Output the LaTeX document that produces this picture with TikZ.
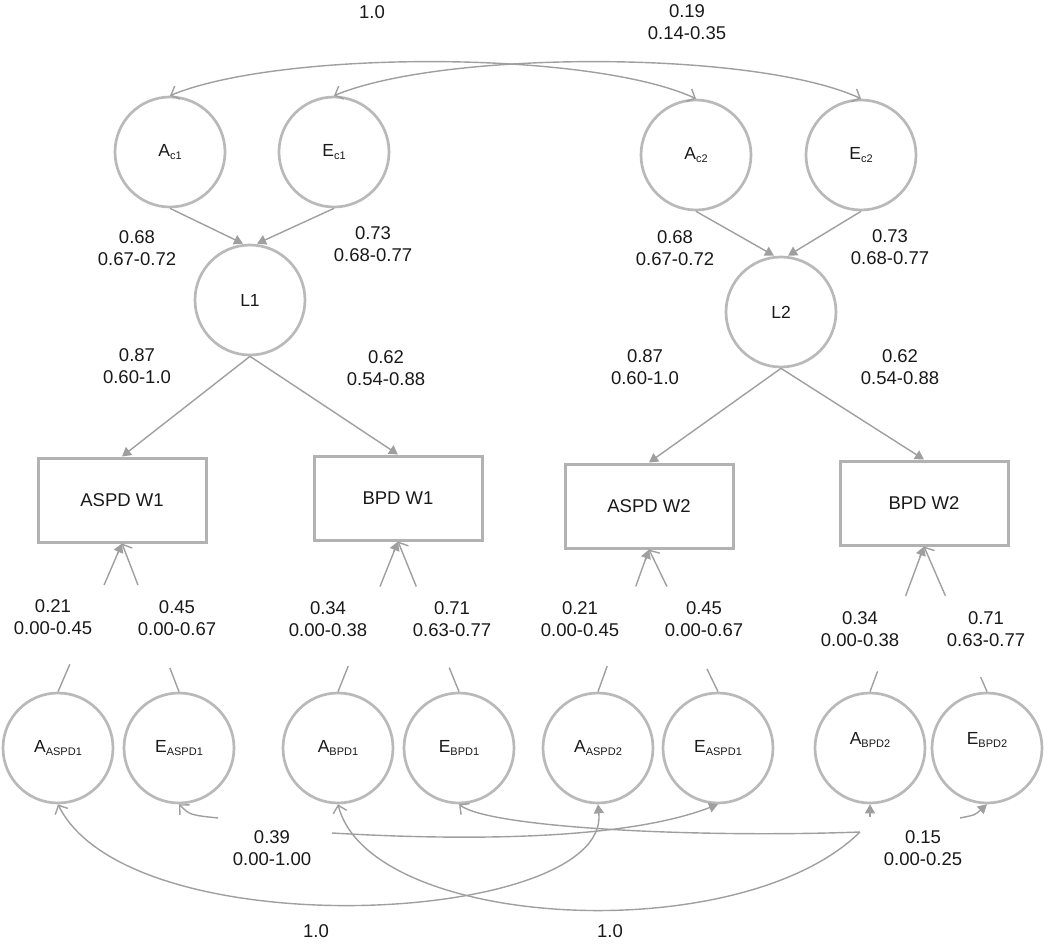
\documentclass[tikz,border=0pt]{standalone}
\usepackage{fontspec}
\setmainfont{Liberation Sans}
\usetikzlibrary{arrows.meta,calc}
\newcommand{\lsub}[1]{\raisebox{-0.4ex}{\fontsize{11}{12}\selectfont #1}}
\begin{document}
\begin{tikzpicture}[x=1pt,y=-1pt,
  lat/.style={circle,draw=gray!55,line width=2.7pt,minimum size=110pt,inner sep=0pt,font=\fontsize{17.5}{20}\selectfont,text=black!90},
  obs/.style={rectangle,draw=gray!60,line width=3pt,minimum width=168pt,minimum height=84pt,inner sep=0pt,font=\fontsize{18.5}{22}\selectfont,text=black!90},
  conn/.style={draw=gray!75,line width=1.4pt},
  fl/.style={-{Triangle[length=9pt,width=10pt]}},
  ob/.style={-{Straight Barb[length=7pt,width=16pt]}},
  est/.style={font=\fontsize{18.5}{22}\selectfont,align=center,inner sep=0pt,text=black!90}
]
\useasboundingbox (0,0) rectangle (1050,944);

% top latent variables
\node[lat] (ac1) at (170,152) {A\lsub{c1}};
\node[lat] (ec1) at (334,152) {E\lsub{c1}};
\node[lat] (ac2) at (696,155) {A\lsub{c2}};
\node[lat] (ec2) at (861,155) {E\lsub{c2}};
\node[lat] (l1) at (250,300) {L1};
\node[lat] (l2) at (781,312) {L2};

% observed
\node[obs] (aw1) at (122,500) {ASPD W1};
\node[obs] (bw1) at (398,498) {BPD W1};
\node[obs] (aw2) at (649,506) {ASPD W2};
\node[obs] (bw2) at (924,503) {BPD W2};

% residual latent variables
\node[lat] (aa1) at (58,748) {A\lsub{ASPD1}};
\node[lat] (ea1) at (179,748) {E\lsub{ASPD1}};
\node[lat] (ab1) at (338,748) {A\lsub{BPD1}};
\node[lat] (eb1) at (459,748) {E\lsub{BPD1}};
\node[lat] (aa2) at (598,748) {A\lsub{ASPD2}};
\node[lat] (ea2) at (718,748) {E\lsub{ASPD1}};
\node[lat,label={[font=\fontsize{17.5}{20}\selectfont,text=black!90,yshift=8pt]center:A\lsub{BPD2}}] (ab2) at (870,748) {};
\node[lat,label={[font=\fontsize{17.5}{20}\selectfont,text=black!90,yshift=8pt]center:E\lsub{BPD2}}] (eb2) at (987,748) {};

% top correlations
\draw[conn,{Straight Barb[length=7pt,width=14pt]}-{Straight Barb[length=7pt,width=14pt]}] (ac1.north) .. controls (280,50) and (590,50) .. (ac2.north);
\draw[conn,{Straight Barb[length=7pt,width=14pt]}-{Straight Barb[length=7pt,width=14pt]}] (ec1.north) .. controls (444,50) and (755,50) .. (ec2.north);
\node[est] (t10) at (372,12) {1.0};
\node[est] (t019) at (687,22) {0.19\\0.14-0.35};

% loadings to L
\draw[conn,fl] (ac1.south) -- ($(l1.north)+(-7,0)$);
\draw[conn,fl] (ec1.south) -- ($(l1.north)+(7,0)$);
\draw[conn,fl] (ac2.south) -- ($(l2.north)+(-7,0)$);
\draw[conn,fl] (ec2.south) -- ($(l2.north)+(7,0)$);
\node[est] (la1) at (137,248) {0.68\\0.67-0.72};
\node[est] (le1) at (373,244) {0.73\\0.68-0.77};
\node[est] (la2) at (675,248) {0.68\\0.67-0.72};
\node[est] (le2) at (890,247) {0.73\\0.68-0.77};

% L to observed
\draw[conn,fl] (l1.south) -- (aw1.north);
\draw[conn,fl] (l1.south) -- (bw1.north);
\draw[conn,fl] (l2.south) -- (aw2.north);
\draw[conn,fl] (l2.south) -- (bw2.north);
\node[est] (p1a) at (137,366) {0.87\\0.60-1.0};
\node[est] (p1b) at (386,368) {0.62\\0.54-0.88};
\node[est] (p2a) at (645,367) {0.87\\0.60-1.0};
\node[est] (p2b) at (900,367) {0.62\\0.54-0.88};

% residual paths (with gaps)
\foreach \c/\b/\f/\g/\tip in {aa1/aw1/0.185/0.72/fl, ea1/aw1/0.16/0.72/ob, ab1/bw1/0.17/0.70/fl, eb1/bw1/0.16/0.70/ob, aa2/aw2/0.18/0.74/fl, ea2/aw2/0.16/0.74/ob, ab2/bw2/0.14/0.66/fl, eb2/bw2/0.10/0.66/ob}{
  \draw[conn] (\c.north) -- ($(\c.north)!\f!(\b.south)$);
  \draw[conn,\tip] ($(\c.north)!\g!(\b.south)$) -- (\b.south);
}
\node[est] (r1) at (53,617) {0.21\\0.00-0.45};
\node[est] (r2) at (177,618) {0.45\\0.00-0.67};
\node[est] (r3) at (328,619) {0.34\\0.00-0.38};
\node[est] (r4) at (452,619) {0.71\\0.63-0.77};
\node[est] (r5) at (580,619) {0.21\\0.00-0.45};
\node[est] (r6) at (704,619) {0.45\\0.00-0.67};
\node[est] (r7) at (860,629) {0.34\\0.00-0.38};
\node[est] (r8) at (986,629) {0.71\\0.63-0.77};

% bottom correlations
\coordinate (g1a) at (218,818);
\coordinate (g1b) at (332,833);
\coordinate (g2a) at (860,832);
\coordinate (g2b) at (960,818);
\coordinate (g3) at (870,817);
\draw[conn,{Straight Barb[length=7pt,width=14pt]}-] (ea1.south) .. controls (190,815) .. (g1a);
\draw[conn,fl] (g1b) .. controls (450,840) and (620,842) .. (ea2.south);
\draw[conn,{Straight Barb[length=7pt,width=14pt]}-] (eb1.south) .. controls (490,828) and (700,838) .. (g2a);
\draw[conn,fl] (g2b) .. controls (975,815) .. (eb2.south);
\draw[conn,{Straight Barb[length=7pt,width=14pt]}-{Triangle[length=9pt,width=10pt]}] (aa1.south) .. controls (130,950) and (610,925) .. (aa2.south);
\draw[conn,{Straight Barb[length=7pt,width=14pt]}-] (ab1.south) .. controls (370,930) and (740,950) .. (g2a);
\draw[conn,fl] (g3) -- (ab2.south);
\node[est] (c039) at (272,848) {0.39\\0.00-1.00};
\node[est] (c015) at (923,848) {0.15\\0.00-0.25};
\node[est] (c10a) at (316,931) {1.0};
\node[est] (c10b) at (610,931) {1.0};
\end{tikzpicture}
\end{document}
